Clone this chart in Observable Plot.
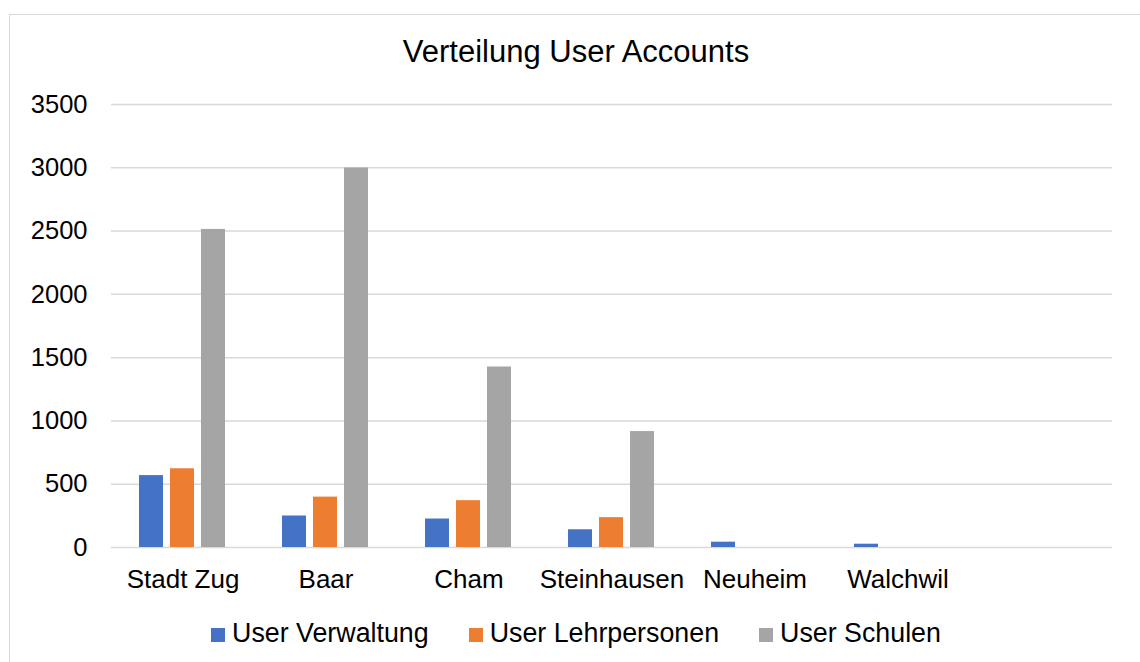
<!DOCTYPE html>
<html>
<head>
<meta charset="utf-8">
<script src="https://cdn.jsdelivr.net/npm/d3@7"></script>
<script src="https://cdn.jsdelivr.net/npm/@observablehq/plot@0.6"></script>
<style>
  html, body { margin: 0; padding: 0; background: #fff; }
  body { width: 1140px; height: 662px; position: relative; overflow: hidden;
         font-family: "Liberation Sans", Arial, Helvetica, sans-serif; color: #000; }
  #frame { position: absolute; left: 9px; top: 14px; width: 1134px; height: 660px;
           border: 1px solid #d9d9d9; box-sizing: border-box; }
  #title { position: absolute; left: 9px; width: 1134px; top: 36px; text-align: center;
           font-size: 31px; line-height: 31px; }
  #chart { position: absolute; left: 0; top: 80px; }
  #legend { position: absolute; left: 9px; width: 1134px; top: 620px; text-align: center;
            font-size: 26.8px; line-height: 26px; white-space: nowrap; }
  .item { display: inline-block; margin: 0 20px; }
  .sw { display: inline-block; width: 14px; height: 14px; margin-right: 7px; vertical-align: 0px; }
</style>
</head>
<body>
<div id="frame"></div>
<div id="title">Verteilung User Accounts</div>
<div id="chart"></div>
<div id="legend"></div>
<script>
const categories = ["Stadt Zug", "Baar", "Cham", "Steinhausen", "Neuheim", "Walchwil", ""];
const seriesNames = ["User Verwaltung", "User Lehrpersonen", "User Schulen"];
const verwaltung   = [568, 249, 225, 140, 42, 26];
const lehrpersonen = [622, 398, 370, 236, 0, 0];
const schulen      = [2513, 2998, 1426, 916, 0, 0];
const colors = ["#4472c4", "#ed7d31", "#a5a5a5"];
const yTicks = [0, 500, 1000, 1500, 2000, 2500, 3000, 3500];

const seriesValues = [verwaltung, lehrpersonen, schulen];
const data = [];
categories.forEach((c, i) => {
  seriesNames.forEach((s, j) => {
    const v = seriesValues[j][i];
    if (v !== undefined) data.push({cat: c, series: s, value: v});
  });
});
const gridData = [];
categories.forEach(c => yTicks.forEach(t => gridData.push({cat: c, v: t})));

const chart = Plot.plot({
  width: 1140,
  height: 520,
  marginTop: 24,
  marginBottom: 53,
  marginLeft: 110,
  marginRight: 28,
  style: {fontFamily: '"Liberation Sans", Arial, Helvetica, sans-serif', color: "#000", background: "transparent"},
  fx: {domain: categories, padding: 0, axis: null, label: null},
  x: {domain: seriesNames, paddingInner: 0.21, paddingOuter: 0.87, axis: null},
  y: {domain: [0, 3500], axis: null},
  color: {domain: seriesNames, range: colors},
  marks: [
    Plot.ruleY(gridData, {fx: "cat", y: "v", stroke: "#d9d9d9", strokeWidth: 1.5}),
    Plot.barY(data, {fx: "cat", x: "series", y: "value", fill: "series"}),
    Plot.axisY({ticks: yTicks, tickSize: 0, tickPadding: 24, fontSize: 25.5, label: null, tickFormat: d => String(d)}),
    Plot.axisFx({anchor: "bottom", tickSize: 0, tickPadding: 22, fontSize: 26, label: null})
  ]
});
document.getElementById("chart").appendChild(chart);

const legend = document.getElementById("legend");
seriesNames.forEach((s, i) => {
  const item = document.createElement("span");
  item.className = "item";
  const sw = document.createElement("span");
  sw.className = "sw";
  sw.style.background = colors[i];
  item.appendChild(sw);
  item.appendChild(document.createTextNode(s));
  legend.appendChild(item);
});
</script>
</body>
</html>
